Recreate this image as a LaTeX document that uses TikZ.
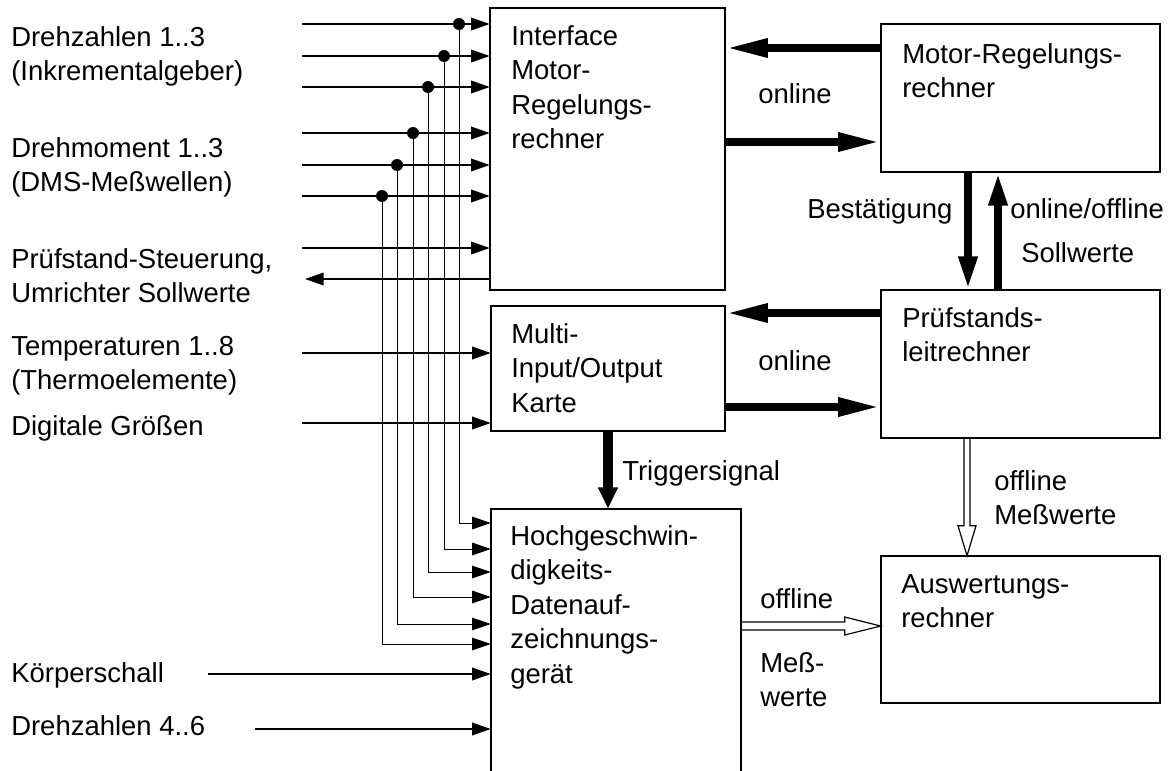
\documentclass[tikz,border=0pt]{standalone}
\usepackage{fontspec}
\setmainfont{Liberation Sans}
\usetikzlibrary{arrows.meta,fit,calc}
\newcommand{\mlines}[1]{\parbox[t]{12cm}{\raggedright #1}}
\begin{document}
\begin{tikzpicture}[x=0.75pt,y=-0.75pt,
  font=\fontsize{20.6}{25.9}\selectfont,
  box/.style={draw,line width=1.4pt,inner sep=0pt},
  lbl/.style={anchor=base west,inner sep=0pt},
  inarrow/.style={line width=1.1pt,-{Triangle[length=14pt,width=9.5pt]}},
  tap/.style={line width=0.6pt,-{Triangle[length=14pt,width=9.5pt]}},
  bigarrow/.style={line width=6pt,-{Triangle[length=32pt,width=13pt]}},
  vbigarrow/.style={line width=6pt,-{Triangle[length=25pt,width=13pt]}},
  trigarrow/.style={line width=7pt,-{Triangle[length=16pt,width=14pt]}},
  hollow/.style={line width=0.9pt,fill=white,line join=miter},
  dot/.style={circle,fill,inner sep=0pt,minimum size=9pt}
]
\useasboundingbox (0,0) rectangle (1175,771);

% boxes (geometry only; drawn later)
\node[inner sep=0pt,fit={(490,8) (725,290)}] (iface) {};
\node[inner sep=0pt,fit={(881,24) (1160,172)}] (motor) {};
\node[inner sep=0pt,fit={(491,306) (725,431)}] (multi) {};
\node[inner sep=0pt,fit={(881,290) (1160,438)}] (pruef) {};
\node[inner sep=0pt,fit={(491,509) (741,780)}] (hgd) {};
\node[inner sep=0pt,fit={(881,556) (1160,703)}] (ausw) {};

% box texts
\node[lbl] (iface-t) at (511,45) {\mlines{Interface\\Motor-\\Regelungs-\\rechner}};
\node[lbl] (motor-t) at (902,63) {\mlines{Motor-Regelungs-\\rechner}};
\node[lbl] (pruef-t) at (902,327) {\mlines{Prüfstands-\\leitrechner}};
\node[lbl] (multi-t) at (511,343) {\mlines{Multi-\\Input/Output\\Karte}};
\node[lbl] (hgd-t) at (510,545) {\mlines{Hochgeschwin-\\digkeits-\\Datenauf-\\zeichnungs-\\gerät}};
\node[lbl] (ausw-t) at (901,593) {\mlines{Auswertungs-\\rechner}};

% left labels
\node[lbl] (l1) at (11,46) {\mlines{Drehzahlen 1..3\\(Inkrementalgeber)}};
\node[lbl] (l2) at (11,157) {\mlines{Drehmoment 1..3\\(DMS-Meßwellen)}};
\node[lbl] (l3) at (11,268) {\mlines{Prüfstand-Steuerung,\\Umrichter Sollwerte}};
\node[lbl] (l4) at (11,355) {\mlines{Temperaturen 1..8\\(Thermoelemente)}};
\node[lbl] (l5) at (11,435) {Digitale Größen};
\node[lbl] (l6) at (11,682) {Körperschall};
\node[lbl] (l7) at (11,735) {Drehzahlen 4..6};

% connector labels
\node[lbl] (on1) at (758,103) {online};
\node[lbl] (on2) at (758,370) {online};
\node[lbl] (best) at (807,218) {Bestätigung};
\node[lbl] (onoff) at (1010,218) {online/offline};
\node[lbl] (soll) at (1021,262) {Sollwerte};
\node[lbl] (trig) at (622,480) {Triggersignal};
\node[lbl] (offm) at (994,490) {\mlines{offline\\Meßwerte}};
\node[lbl] (off2) at (760,608) {offline};
\node[lbl] (mess) at (760,672) {\mlines{Meß-\\werte}};

% input lines to interface
\foreach \y [count=\i] in {24,56,87,133,165,196,248}{
  \coordinate (s\i) at (302,\y);
  \draw[inarrow] (s\i) -- (iface.west |- s\i);
}
\coordinate (out) at (305,279);
\draw[inarrow] (iface.west |- out) -- (out);
% inputs to multi
\coordinate (t1) at (302,353);
\coordinate (t2) at (302,423);
\draw[inarrow] (t1) -- (multi.west |- t1);
\draw[inarrow] (t2) -- (multi.west |- t2);
% inputs to hgd
\coordinate (k1) at (208,674);
\coordinate (k2) at (255,729);
\draw[inarrow] (k1) -- (hgd.west |- k1);
\draw[inarrow] (k2) -- (hgd.west |- k2);

% taps
\foreach \x/\i/\ty in {459/1/523,444/2/549,428/3/572,413/4/597,397/5/624,382/6/644}{
  \node[dot] (d\i) at (s\i -| \x,0) {};
  \draw[tap] (d\i.center) |- (hgd.west |- 0,\ty);
}

% thick arrows
\draw[bigarrow] (motor.west |- 0,48) -- (iface.east |- 0,48);
\draw[bigarrow] (iface.east |- 0,142) -- (motor.west |- 0,142);
\draw[vbigarrow] (motor.south -| 968,0) -- (pruef.north -| 968,0);
\draw[vbigarrow] (pruef.north -| 998,0) -- (motor.south -| 998,0);
\draw[bigarrow] (pruef.west |- 0,313) -- (multi.east |- 0,313);
\draw[bigarrow] (multi.east |- 0,407) -- (pruef.west |- 0,407);
\draw[trigarrow] (multi.south) -- (multi.south |- hgd.north);

% hollow arrows
\coordinate (o1a) at (pruef.south -| 967,0);
\coordinate (o1b) at (ausw.north -| 967,0);
\draw[hollow] ($(o1a)+(-3,0)$) -- ($(o1b)+(-3,-30)$) -- ($(o1b)+(-9,-30)$) -- (o1b)
  -- ($(o1b)+(9,-30)$) -- ($(o1b)+(3,-30)$) -- ($(o1a)+(3,0)$);
\coordinate (o2a) at (hgd.east |- 0,626);
\coordinate (o2b) at (ausw.west |- 0,626);
\draw[hollow] ($(o2a)+(0,-4)$) -- ($(o2b)+(-36,-4)$) -- ($(o2b)+(-36,-9)$) -- (o2b)
  -- ($(o2b)+(-36,9)$) -- ($(o2b)+(-36,4)$) -- ($(o2a)+(0,4)$);

% box outlines
\foreach \b in {iface,motor,multi,pruef,hgd,ausw}{
  \draw[line width=1.4pt] (\b.north west) rectangle (\b.south east);
}
\end{tikzpicture}
\end{document}
